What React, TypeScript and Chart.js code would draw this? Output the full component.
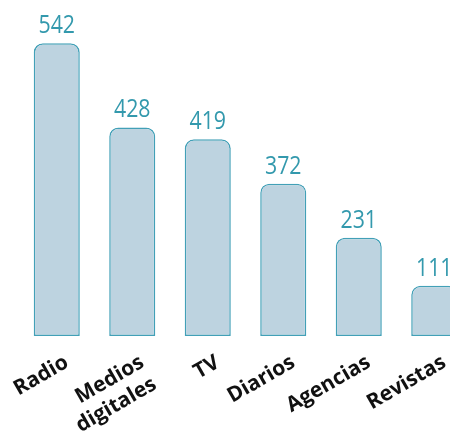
import { useEffect, useRef } from 'react';
import { Chart, registerables } from 'chart.js';

Chart.register(...registerables);

// Category labels (multi-line where the reference wraps)
const categories: (string | string[])[] = ['Radio', ['Medios', 'digitales'], 'TV', 'Diarios', 'Agencias', 'Revistas'];
// Values printed above each bar
const mentionCounts = [542, 428, 419, 372, 231, 111];
// Bar lengths as drawn in the reference (not proportional to the printed values), in the same units
const drawnBarLengths = [542, 386, 364, 282, 182, 93];

const valueLabelPlugin = {
  id: 'valueLabels',
  afterDatasetsDraw(chart: any) {
    const ctx = chart.ctx;
    const meta = chart.getDatasetMeta(0);
    meta.data.forEach((el: any, i: number) => {
      ctx.save();
      ctx.translate(el.x, el.y - 10);
      ctx.scale(0.82, 1);
      ctx.font = '26px "Open Sans", sans-serif';
      ctx.fillStyle = '#3399ad';
      ctx.textAlign = 'center';
      ctx.textBaseline = 'alphabetic';
      ctx.fillText(String(mentionCounts[i]), 0, 0);
      ctx.restore();
    });
  },
};

export default function App() {
  const ref = useRef<HTMLCanvasElement | null>(null);

  useEffect(() => {
    if (!ref.current) return;
    const chart = new Chart(ref.current, {
      type: 'bar',
      data: {
        labels: categories,
        datasets: [
          {
            data: drawnBarLengths,
            backgroundColor: '#bdd3e0',
            borderColor: '#42a0b7',
            borderWidth: 1.5,
            borderSkipped: false,
            borderRadius: { topLeft: 9, topRight: 9, bottomLeft: 0, bottomRight: 0 },
            barPercentage: 0.61,
            categoryPercentage: 1,
          },
        ],
      },
      options: {
        responsive: false,
        animation: false,
        layout: { padding: { left: 19, right: 8, top: 0, bottom: 0 } },
        plugins: {
          legend: { display: false },
          tooltip: { enabled: false },
        },
        scales: {
          x: {
            grid: { display: false, drawTicks: false, tickLength: 0 },
            border: { display: false },
            ticks: {
              autoSkip: false,
              maxRotation: 30,
              minRotation: 30,
              padding: 14,
              labelOffset: 10,
              color: '#111111',
              font: { family: '"Open Sans", sans-serif', size: 21, weight: 'bold', lineHeight: 1.2 },
            },
            afterFit: (scale: any) => {
              scale.paddingLeft = 0;
              scale.paddingRight = 0;
              scale.height = 98;
            },
          },
          y: {
            display: false,
            min: 0,
            max: 622,
          },
        },
      },
      plugins: [valueLabelPlugin],
    });
    return () => chart.destroy();
  }, []);

  return (
    <div style={{ position: 'absolute', left: 0, top: 0, width: 450, height: 434, overflow: 'hidden', background: '#ffffff' }}>
      <canvas ref={ref} width={480} height={434} style={{ display: 'block' }} />
    </div>
  );
}
